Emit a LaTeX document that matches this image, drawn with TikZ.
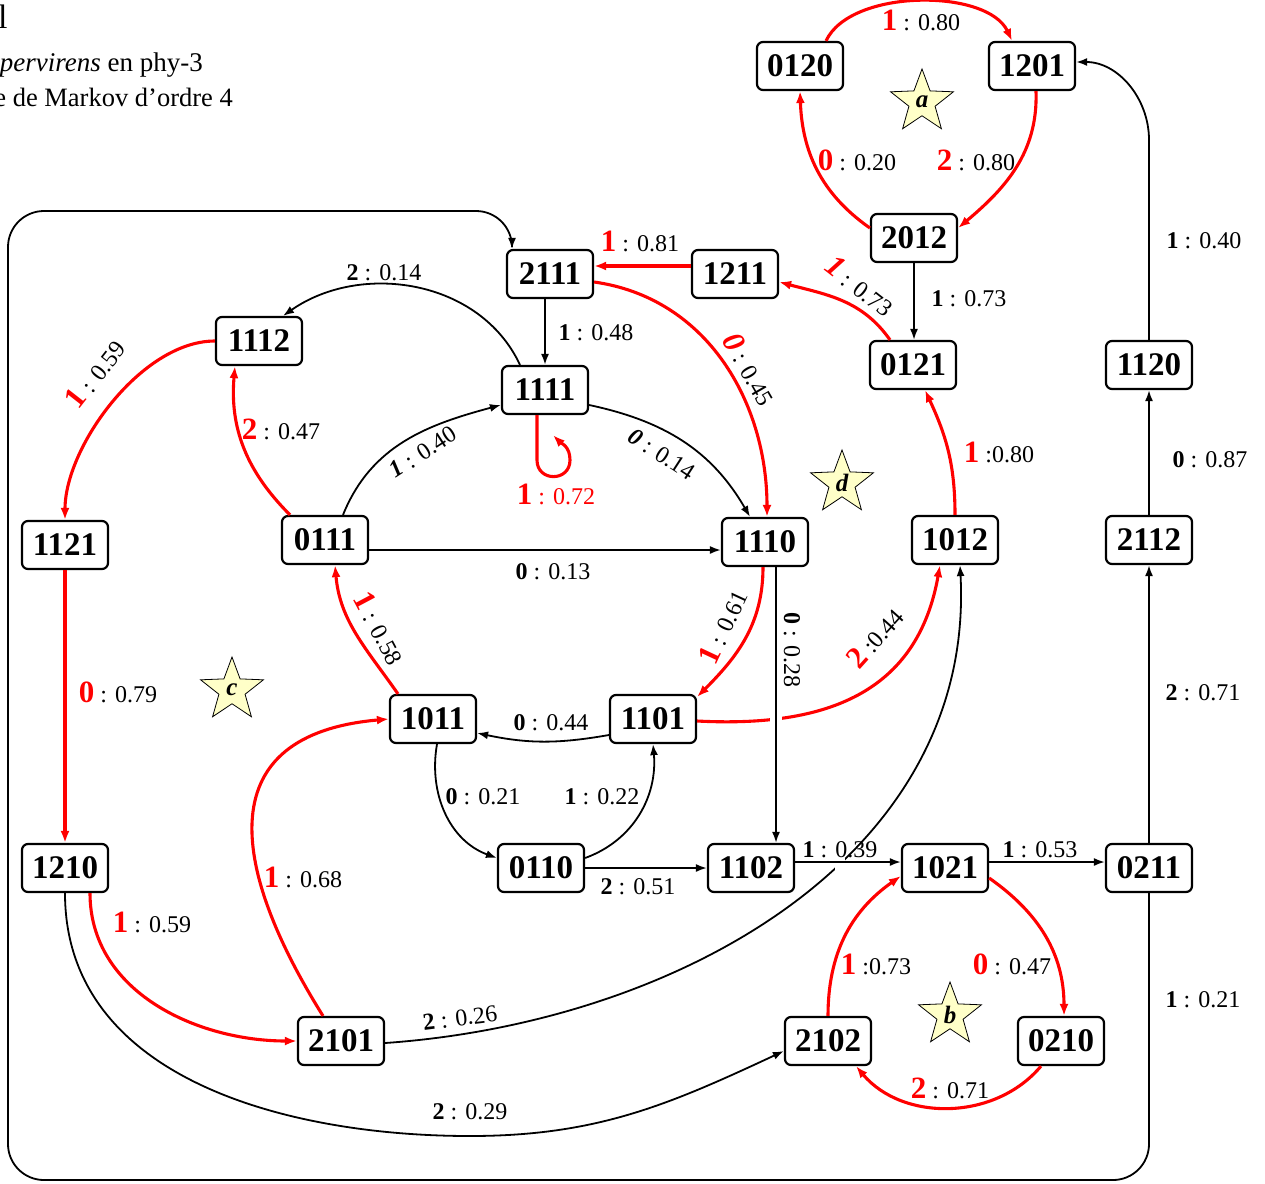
\documentclass[tikz,border=0pt]{standalone}
\usepackage{fontspec}
\setmainfont{Liberation Serif}
\usetikzlibrary{arrows.meta,shapes.geometric,intersections}
\definecolor{staryel}{RGB}{255,255,200}
\newcommand{\rdig}[1]{{\fontsize{31}{31}\selectfont\bfseries\color{red}#1}}
\newcommand{\rdigi}[1]{{\fontsize{31}{31}\selectfont\bfseries\itshape\color{red}#1}}
\newcommand{\bdig}[1]{{\bfseries #1}}
\newcommand{\bdigi}[1]{{\bfseries\itshape #1}}
\tikzset{
  st/.style={draw, line width=2.2pt, rounded corners=6pt, minimum width=86pt,
    minimum height=48pt, inner sep=0pt, fill=white,
    font=\fontsize{33}{33}\selectfont\bfseries},
  bk/.style={line width=1.8pt, -{Latex[length=11pt,width=8pt]}},
  rd/.style={red, line width=3.1pt, -{Latex[length=12pt,width=9pt]}},
  lb/.style={font=\fontsize{24}{24}\selectfont, inner sep=1pt},
  starnode/.style={star, star points=5, star point ratio=2.4, draw, fill=staryel,
    minimum size=66pt, inner sep=0pt, line width=0.8pt,
    font=\fontsize{25}{25}\selectfont\bfseries\itshape},
  halo/.style={white, line width=12pt},
}
\begin{document}
\begin{tikzpicture}[x=1pt,y=1pt]
\useasboundingbox (0,0) rectangle (1265,-1183);

% title fragments
\node[anchor=west, font=\fontsize{34}{34}\selectfont, inner sep=0pt] (t1) at (-2,-17) {l};
\node[anchor=east, font=\fontsize{27}{27}\selectfont, inner sep=0pt] (t2) at (203,-65) {\textit{pervirens} en phy-3};
\node[anchor=east, font=\fontsize{26.5}{26.5}\selectfont, inner sep=0pt] (t3) at (233,-97) {e de Markov d’ordre 4};

% states
\node[st] (n0120) at (800,-66) {0120};
\node[st] (n1201) at (1032,-66) {1201};
\node[st] (n2012) at (914,-238) {2012};
\node[st] (n2111) at (550,-274) {2111};
\node[st] (n1211) at (735,-274) {1211};
\node[st] (n1112) at (259,-341) {1112};
\node[st] (n1111) at (545,-390) {1111};
\node[st] (n0121) at (913,-365) {0121};
\node[st] (n1120) at (1149,-365) {1120};
\node[st] (n1121) at (65,-545) {1121};
\node[st] (n0111) at (325,-540) {0111};
\node[st] (n1110) at (765,-542) {1110};
\node[st] (n1012) at (955,-540) {1012};
\node[st] (n2112) at (1149,-540) {2112};
\node[st] (n1011) at (433,-719) {1011};
\node[st] (n1101) at (653,-719) {1101};
\node[st] (n1210) at (65,-868) {1210};
\node[st] (n0110) at (541,-868) {0110};
\node[st] (n1102) at (751,-868) {1102};
\node[st] (n1021) at (945,-868) {1021};
\node[st] (n0211) at (1149,-868) {0211};
\node[st] (n2101) at (341,-1041) {2101};
\node[st] (n2102) at (828,-1041) {2102};
\node[st] (n0210) at (1061,-1041) {0210};

% stars
\node[starnode] (sa) at (922,-102) {a};
\node[starnode] (sd) at (842,-483) {d};
\node[starnode] (sc) at (232,-690) {c};
\node[starnode] (sb) at (950,-1015) {b};

% helper coordinates
\coordinate (fr1) at (1149,-1180);
\coordinate (fr2) at (8,-1180);
\coordinate (fr3) at (8,-211);
\coordinate (fr4) at (512,-211);
\coordinate (c40) at (1149,-140);
\coordinate (bt) at (470,-1136);

% outer frame
\draw[bk, rounded corners=36pt] (n0211.south) -- (fr1) -- (fr2) -- (fr3) -- (fr4) -- (fr4 |- n2111.north);

% cycle a
\draw[rd] ([xshift=26]n0120.north) to[out=65,in=115,looseness=0.8] ([xshift=-20]n1201.north);
\draw[rd] ([xshift=4]n1201.south) to[out=-88,in=40] ([yshift=10]n2012.east);
\draw[rd] ([yshift=10]n2012.west) to[out=145,in=-88] (n0120.south);
\draw[bk] (n2012.south) -- (n2012.south |- n0121.north);

% right column
\draw[bk] (n0211.north) -- (n2112.south);
\draw[bk] (n2112.north) -- (n1120.south);
\draw[bk] (n1120.north) -- (c40) to[out=90,in=0] ([yshift=4]n1201.east);

% upper middle
\draw[rd] ([xshift=-23]n0121.north) to[out=125,in=-15] ([yshift=-8]n1211.east);
\draw[rd] ([yshift=8]n1211.west) -- ([yshift=8]n1211.west -| n2111.east);
\draw[bk] (n1111.north |- n2111.south) -- (n1111.north);
\draw[rd] ([yshift=-8]n2111.east) to[out=-8,in=90] ([xshift=2]n1110.north);
\draw[bk] ([xshift=-25]n1111.north) to[out=115,in=35] ([xshift=24]n1112.north);
\draw[rd] ([xshift=-8]n1111.south) -- ++(0,-45) .. controls +(0,-22) and +(0,-22) .. ++(33,0) .. controls +(0,14) and +(8,-8) .. ++(-17,25);
\draw[bk] ([yshift=-15]n1111.east) to[out=-12,in=120] ([xshift=-15]n1110.north);
\draw[bk] ([xshift=18]n0111.north) to[out=68,in=195] ([yshift=-15]n1111.west);
\draw[rd] ([xshift=-35]n0111.north) to[out=135,in=-95] ([xshift=-24]n1112.south);
\draw[rd] (n1112.west) to[out=180,in=90,looseness=0.8] (n1121.north);
\draw[bk] ([yshift=-10]n0111.east) -- ([yshift=-10]n0111.east -| n1110.west);
\draw[rd] (n1121.south) -- (n1210.north);
\draw[rd] ([xshift=-35]n1011.north) to[out=125,in=-85] ([xshift=10]n0111.south);
\draw[rd] ([xshift=-2]n1110.south) to[out=-90,in=45] ([yshift=-3]n1101.north east);
\draw[rd] (n1012.north) to[out=90,in=-65] ([xshift=12]n0121.south);

% 1101 -> 1012 crossing 1110 -> 1102
\draw[rd, name path=p2444] ([yshift=-2]n1101.east) to[out=-3,in=-100,looseness=1.15] ([xshift=-15]n1012.south);
\path[name path=pv028] ([xshift=11]n1110.south) -- ([xshift=11]n1110.south |- n1102.north);
\path[name intersections={of=p2444 and pv028, by=xa}];
\draw[halo] ([yshift=14]xa) -- ([yshift=-14]xa);
\draw[bk] ([xshift=11]n1110.south) -- ([xshift=11]n1110.south |- n1102.north);

% lower middle
\draw[bk] ([yshift=-16]n1101.west) to[out=190,in=-12] ([yshift=-14]n1011.east);
\draw[bk] ([xshift=4]n1011.south) to[out=-100,in=160] ([yshift=10]n0110.west);
\draw[bk] ([yshift=10]n0110.east) to[out=20,in=-85] (n1101.south);
\draw[bk] (n0110.east) -- (n1102.west);

% 2101 -> 1012 crossing 1102 -> 1021
\draw[bk, name path=p226] ([yshift=-2]n2101.east) to[out=4,in=-87] ([xshift=5]n1012.south);
\path[name path=ph039] ([yshift=6]n1102.east) -- ([yshift=6]n1021.west);
\path[name intersections={of=p226 and ph039, by=xb}];
\draw[white, line width=16pt] ([xshift=-5]xb) -- ([xshift=5]xb);
\draw[bk] ([yshift=6]n1102.east) -- ([yshift=6]n1021.west);
\draw[bk] ([yshift=6]n1021.east) -- ([yshift=6]n1021.east -| n0211.west);

% bottom left
\draw[rd] ([xshift=25]n1210.south) to[out=-90,in=180] (n2101.west);
\draw[bk] (n1210.south) to[out=-90,in=180] (bt) to[out=0,in=205] ([yshift=-10]n2102.west);
\draw[rd] ([xshift=-18]n2101.north) to[out=122,in=185,looseness=1.5] (n1011.west);

% cycle b
\draw[rd] (n2102.north) to[out=90,in=215] ([yshift=-8]n1021.west);
\draw[rd] ([yshift=-10]n1021.east) to[out=-35,in=90] ([xshift=3]n0210.north);
\draw[rd] ([xshift=-20]n0210.south) to[out=-130,in=-50] ([xshift=28]n2102.south);

% labels
\node[lb] (l01) at (921,-20) {\rdig{1} : 0.80};
\node[lb] (l02) at (857,-160) {\rdig{0} : 0.20};
\node[lb] (l03) at (976,-160) {\rdig{2} : 0.80};
\node[lb] (l04) at (1204,-241) {\bdig{1} : 0.40};
\node[lb] (l05) at (969,-299) {\bdig{1} : 0.73};
\node[lb] (l06) at (640,-241) {\rdig{1} : 0.81};
\node[lb] (l07) at (384,-273) {\bdig{2} : 0.14};
\node[lb] (l08) at (596,-333) {\bdig{1} : 0.48};
\node[lb, rotate=-60] (l09) at (750,-369) {\rdigi{0} : 0.45};
\node[lb, rotate=-38] (l10) at (860,-286) {\rdigi{1} : 0.73};
\node[lb, rotate=52] (l11) at (95,-374) {\rdig{1} : 0.59};
\node[lb] (l12) at (281,-429) {\rdig{2} : 0.47};
\node[lb, rotate=33] (l13) at (423,-452) {\bdigi{1} : 0.40};
\node[lb, text=red] (l14) at (556,-494) {\rdig{1} : 0.72};
\node[lb, rotate=-33] (l15) at (662,-454) {\bdigi{0} : 0.14};
\node[lb] (l16) at (553,-572) {\bdig{0} : 0.13};
\node[lb] (l17) at (999,-452) {\rdig{1} :0.80};
\node[lb] (l18) at (118,-692) {\rdig{0} : 0.79};
\node[lb, rotate=-62] (l19) at (380,-628) {\rdig{1} : 0.58};
\node[lb, rotate=65] (l20) at (723,-627) {\rdig{1} : 0.61};
\node[lb, rotate=-90] (l21) at (792,-650) {\bdig{0} : 0.28};
\node[lb, rotate=48] (l22) at (875,-638) {\rdig{2} :0.44};
\node[lb] (l23) at (551,-723) {\bdig{0} : 0.44};
\node[lb] (l24) at (483,-797) {\bdig{0} : 0.21};
\node[lb] (l25) at (602,-797) {\bdig{1} : 0.22};
\node[lb] (l26) at (303,-877) {\rdig{1} : 0.68};
\node[lb] (l27) at (152,-922) {\rdig{1} : 0.59};
\node[lb] (l28) at (638,-887) {\bdig{2} : 0.51};
\node[lb] (l29) at (840,-850) {\bdig{1} : 0.39};
\node[lb] (l30) at (1040,-850) {\bdig{1} : 0.53};
\node[lb] (l31) at (876,-964) {\rdig{1} :0.73};
\node[lb] (l32) at (1012,-964) {\rdig{0} : 0.47};
\node[lb] (l33) at (950,-1088) {\rdig{2} : 0.71};
\node[lb, rotate=7] (l34) at (460,-1018) {\bdig{2} : 0.26};
\node[lb] (l35) at (470,-1112) {\bdig{2} : 0.29};
\node[lb] (l36) at (1203,-1000) {\bdig{1} : 0.21};
\node[lb] (l37) at (1203,-693) {\bdig{2} : 0.71};
\node[lb] (l38) at (1210,-460) {\bdig{0} : 0.87};
\end{tikzpicture}
\end{document}
